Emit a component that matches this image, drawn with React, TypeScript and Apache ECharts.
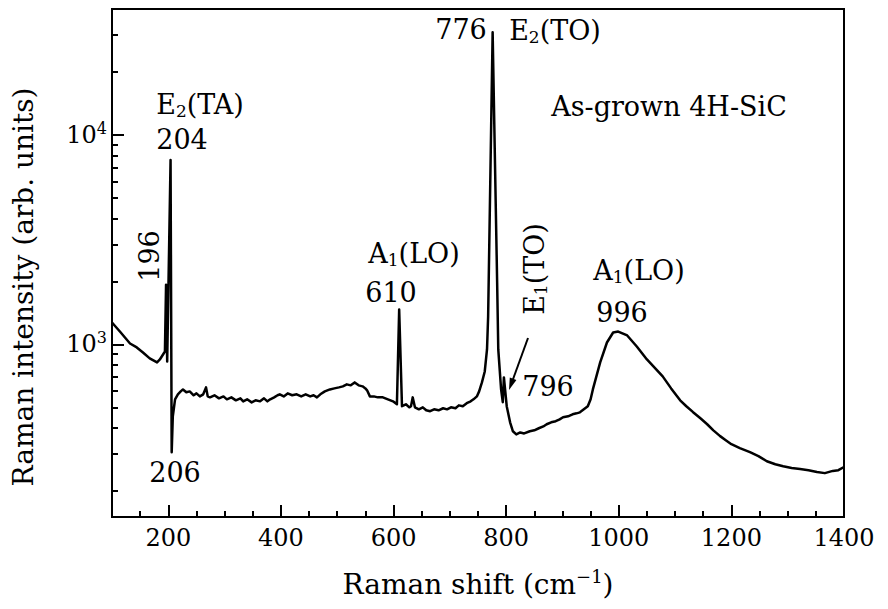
import React, { useEffect, useRef } from "react";
import * as echarts from "echarts";

// Raman shift (cm^-1) and intensity (arb. units)
const ramanShift = [
  100, 114, 123, 132, 144, 155, 167, 180, 185, 194, 196, 198, 204, 206, 208, 212, 217, 222, 226, 232,
  238, 245, 250, 256, 262, 267, 270, 274, 282, 290, 298, 304, 312, 320, 328, 333, 340, 348, 355, 363,
  370, 376, 381, 388, 394, 398, 405, 412, 420, 428, 436, 444, 452, 458, 464, 470, 478, 487, 495, 503,
  510, 517, 524, 531, 538, 545, 550, 553, 558, 565, 572, 581, 590, 599, 606, 610, 615, 622, 628, 631,
  634, 638, 645, 652, 658, 665, 672, 680, 688, 695, 702, 710, 716, 723, 730, 737, 742, 748, 752, 757,
  762, 766, 768, 776, 784, 786, 791, 794, 796, 801, 807, 812, 818, 825, 832, 842, 850, 858, 866, 872,
  880, 888, 895, 901, 910, 918, 925, 931, 938, 945, 950, 954, 967, 979, 990, 999, 1015, 1032, 1050, 1078,
  1093, 1109, 1120, 1132, 1145, 1157, 1168, 1180, 1190, 1200, 1215, 1233, 1248, 1263, 1278, 1292, 1307, 1322, 1337, 1352,
  1366, 1380, 1390, 1400,
];
const intensity = [
  1273, 1153, 1080, 1011, 968, 916, 858, 821, 848, 926, 1931, 830, 7600, 306, 454, 547, 578, 597, 610, 591,
  597, 572, 584, 565, 578, 624, 565, 559, 572, 553, 565, 547, 559, 541, 553, 535, 547, 529, 541, 535,
  553, 535, 547, 559, 572, 578, 565, 584, 572, 578, 565, 578, 565, 572, 559, 578, 597, 610, 617, 624,
  631, 645, 638, 659, 638, 631, 617, 604, 565, 565, 559, 559, 547, 535, 518, 1468, 507, 518, 501, 507,
  559, 501, 490, 501, 485, 480, 490, 485, 496, 490, 501, 496, 512, 507, 524, 535, 547, 565, 597, 659,
  743, 947, 1360, 31000, 1974, 947, 610, 530, 696, 507, 425, 385, 372, 380, 376, 385, 389, 398, 406, 416,
  425, 430, 439, 449, 454, 464, 469, 474, 490, 507, 547, 610, 821, 1022, 1141, 1153, 1104, 978, 848, 704,
  617, 541, 507, 475, 444, 416, 389, 365, 349, 334, 320, 306, 293, 277, 268, 262, 257, 254, 251, 246,
  243, 249, 251, 260,
];

const xMajorTicks = [200, 400, 600, 800, 1000, 1200, 1400];
const xMinorTicks = [150, 250, 300, 350, 450, 500, 550, 650, 700, 750, 850, 900, 950, 1050, 1100, 1150, 1250, 1300, 1350];
const yMajorTicks = [1000, 10000];
const yMinorTicks = [200, 300, 400, 500, 600, 700, 800, 900, 2000, 3000, 4000, 5000, 6000, 7000, 8000, 9000, 20000, 30000];

const FONT = "DejaVu Serif";

export default function App() {
  const ref = useRef<HTMLDivElement>(null);
  useEffect(() => {
    if (!ref.current) return;
    const chart = echarts.init(ref.current, undefined, { renderer: "svg" });
    const data = ramanShift.map((x, i) => [x, intensity[i]]);
    const richAnn = {
      n: { fontSize: 27, fontFamily: FONT, color: "#000", lineHeight: 31 },
      sub: { fontSize: 17, fontFamily: FONT, color: "#000", lineHeight: 17, verticalAlign: "bottom" },
      t: { fontSize: 28, fontFamily: FONT, color: "#000", lineHeight: 32 },
    };
    const txt = (x: number, y: number, text: string, rotation = 0) => ({
      type: "text",
      x,
      y,
      rotation,
      style: {
        text,
        rich: richAnn,
        align: "center",
        verticalAlign: "middle",
        fill: "#000",
        fontSize: 27,
        fontFamily: FONT,
      },
    });
    const axisLbl = {
      fontFamily: FONT,
      fontSize: 24,
      color: "#000",
    };
    chart.setOption({
      animation: false,
      backgroundColor: "#fff",
      grid: { left: 112, right: 44, top: 9, bottom: 92, show: true, borderColor: "#000", borderWidth: 2 },
      xAxis: [
        {
          type: "value",
          min: 100,
          max: 1400,
          position: "bottom",
          axisLine: { show: true, lineStyle: { color: "#000", width: 2 } },
          axisTick: { show: true, inside: true, length: 12, customValues: xMajorTicks, lineStyle: { color: "#000", width: 2 } },
          axisLabel: { ...axisLbl, margin: 9, customValues: xMajorTicks, formatter: (v: number) => String(v) },
          splitLine: { show: false },
          name: "{a|Raman shift (cm}{s|−1}{a|)}",
          nameLocation: "middle",
          nameGap: 50,
          nameTextStyle: {
            rich: {
              a: { fontSize: 28, fontFamily: FONT, color: "#000", lineHeight: 34 },
              s: { fontSize: 18, fontFamily: FONT, color: "#000", lineHeight: 18, verticalAlign: "top" },
            },
          },
        },
        {
          type: "value",
          min: 100,
          max: 1400,
          position: "bottom",
          axisLine: { show: false },
          axisTick: { show: true, inside: true, length: 6, customValues: xMinorTicks, lineStyle: { color: "#000", width: 2 } },
          axisLabel: { show: false },
          splitLine: { show: false },
        },
      ],
      yAxis: [
        {
          type: "log",
          logBase: 10,
          min: 150,
          max: 40000,
          position: "left",
          axisLine: { show: true, lineStyle: { color: "#000", width: 2 } },
          axisTick: { show: true, inside: true, length: 12, customValues: yMajorTicks, lineStyle: { color: "#000", width: 2 } },
          axisLabel: {
            margin: 5,
            customValues: yMajorTicks,
            formatter: (v: number) => "{b|10}{s|" + Math.round(Math.log10(v)) + "}",
            rich: {
              b: { fontSize: 24, fontFamily: FONT, color: "#000", lineHeight: 30 },
              s: { fontSize: 16, fontFamily: FONT, color: "#000", lineHeight: 16, verticalAlign: "top" },
            },
          },
          splitLine: { show: false },
        },
        {
          type: "log",
          logBase: 10,
          min: 150,
          max: 40000,
          position: "left",
          axisLine: { show: false },
          axisTick: { show: true, inside: true, length: 6, customValues: yMinorTicks, lineStyle: { color: "#000", width: 2 } },
          axisLabel: { show: false },
          splitLine: { show: false },
        },
      ],
      series: [
        {
          type: "line",
          data,
          showSymbol: false,
          symbol: "none",
          clip: true,
          lineStyle: { color: "#000", width: 2.5, join: "round" },
        },
      ],
      graphic: [
        txt(23, 287, "{t|Raman intensity (arb. units)}", Math.PI / 2),
        txt(200, 104, "{n|E}{sub|2}{n|(TA)}"),
        txt(182, 139, "{n|204}"),
        txt(149, 256, "{n|196}", Math.PI / 2),
        txt(175, 472, "{n|206}"),
        txt(414, 253, "{n|A}{sub|1}{n|(LO)}"),
        txt(391, 292, "{n|610}"),
        txt(461, 29, "{n|776}"),
        txt(555, 30, "{n|E}{sub|2}{n|(TO)}"),
        txt(669, 106, "{n|As-grown 4H-SiC}"),
        txt(534, 269, "{n|E}{sub|1}{n|(TO)}", Math.PI / 2),
        txt(548, 386, "{n|796}"),
        txt(639, 270, "{n|A}{sub|1}{n|(LO)}"),
        txt(622, 312, "{n|996}"),
        {
          type: "line",
          shape: { x1: 528, y1: 338, x2: 512, y2: 382 },
          style: { stroke: "#000", lineWidth: 2 },
        },
        {
          type: "polygon",
          shape: { points: [[509, 390], [516.4, 379.9], [509.8, 377.5]] },
          style: { fill: "#000" },
        },
      ],
    });
    return () => chart.dispose();
  }, []);
  return <div ref={ref} style={{ position: "fixed", left: 0, top: 0, width: 888, height: 609 }} />;
}
